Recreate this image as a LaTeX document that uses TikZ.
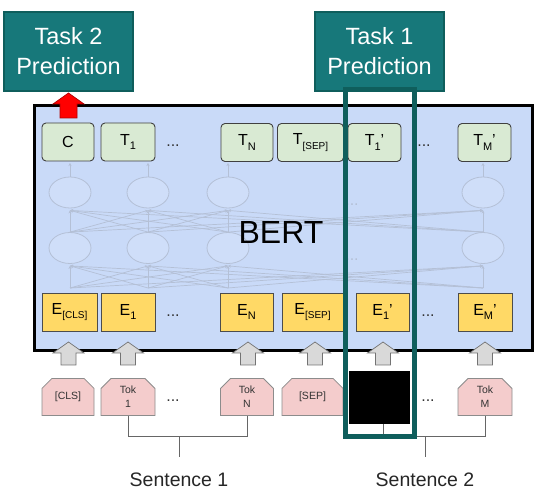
\documentclass[tikz,border=0pt]{standalone}
\usepackage{fontspec}
\setmainfont{Liberation Sans}
\usetikzlibrary{shapes.misc,shapes.geometric,arrows.meta}
\definecolor{bertbg}{HTML}{C9DAF8}
\definecolor{tfill}{HTML}{D9EAD3}
\definecolor{efill}{HTML}{FFD966}
\definecolor{tokfill}{HTML}{F4CCCC}
\definecolor{tealA}{HTML}{17787A}
\definecolor{tealB}{HTML}{0F5E5C}
\definecolor{netc}{HTML}{B4C0D6}
\definecolor{arrg}{HTML}{D9D9D9}
\definecolor{redA}{HTML}{FF0000}
\definecolor{redB}{HTML}{B00000}
\newcommand\sbx[1]{\raisebox{-4.5pt}{\fontsize{11}{11}\selectfont #1}}
\newcommand\sbs[1]{\raisebox{-4.5pt}{\fontsize{10}{10}\selectfont #1}}
\begin{document}
\begin{tikzpicture}[x=1pt,y=-1pt,
  bertbox/.style={draw=black, line width=3pt, fill=bertbg, inner sep=0pt},
  tbox/.style={draw=black!75, fill=tfill, rounded corners=4pt, line width=0.9pt,
    minimum height=38pt, inner sep=0pt, font=\fontsize{16}{16}\selectfont},
  ebox/.style={draw=black!70, fill=efill, line width=0.8pt, minimum height=38pt,
    inner sep=0pt, font=\fontsize{16}{16}\selectfont},
  tokbox/.style={chamfered rectangle, chamfered rectangle corners={north west,north east},
    chamfered rectangle xsep=5pt, chamfered rectangle ysep=5pt, draw=black!45,
    line width=0.8pt, fill=tokfill, minimum height=37pt, inner sep=0pt, align=center,
    font=\fontsize{10.5}{14}\selectfont, text=black!80},
  taskbox/.style={draw=tealB, line width=1.5pt, fill=tealA, minimum width=129pt,
    minimum height=79pt, inner sep=0pt, align=center, text=white,
    font=\fontsize{23.5}{30}\selectfont},
  dotsn/.style={inner sep=0pt, font=\fontsize{16}{16}\selectfont, text=black!80},
  netell/.style={ellipse, draw=netc, line width=0.8pt, fill=bertbg!88!white,
    minimum width=42pt, minimum height=31pt, inner sep=0pt},
  netline/.style={draw=netc, line width=0.7pt, -{Stealth[length=3pt,width=3pt]}},
  bracket/.style={draw=black!60, line width=1pt},
  sentlbl/.style={inner sep=0pt, font=\fontsize{19.5}{20}\selectfont, text=black!85},
  frame/.style={draw=tealB, line width=5pt},
  garrow/.style={draw=black!55, fill=arrg, line width=0.7pt},
  rarrow/.style={draw=redB, fill=redA, line width=0.7pt},
  uparr/.pic={\path[pic actions] (-7.5,0) -- (-7.5,-12) -- (-15.5,-12) -- (0,-23)
     -- (15.5,-12) -- (7.5,-12) -- (7.5,0) -- cycle;},
  redup/.pic={\path[pic actions] (-8.5,0) -- (-8.5,-14) -- (-15.5,-14) -- (0,-25)
     -- (15.5,-14) -- (8.5,-14) -- (8.5,0) -- cycle;}
]
\useasboundingbox (0,0) rectangle (539,494);

% BERT box
\node[bertbox, minimum width=498.5pt, minimum height=244.5pt] (bert) at (283.25,228.25) {};

% faint network
\foreach \i/\x in {1/70,2/148,3/228,4/483}{
  \node[netell] (u\i) at (\x,192.5) {};
  \node[netell] (l\i) at (\x,248) {};
  \coordinate (b\i) at (\x,288);
  \coordinate (tt\i) at (\x,163);
}
\foreach \i in {1,...,4}{
  \foreach \j in {1,...,4}{
    \draw[netline] (b\i) -- ([yshift=-2pt]l\j.south);
    \draw[netline] (l\i.north) -- ([yshift=-2pt]u\j.south);
  }
  \draw[netline] (u\i.north) -- (tt\i);
}
\node[inner sep=0pt, font=\fontsize{16}{16}\selectfont, text=netc] (nd1) at (352,205) {...};
\node[inner sep=0pt, font=\fontsize{16}{16}\selectfont, text=netc] (nd2) at (352,260) {...};

\node[inner sep=0pt, font=\fontsize{32}{32}\selectfont] (berttxt) at (281,232) {BERT};

% T row
\node[tbox, minimum width=52pt] (C) at (68,142) {C};
\node[tbox, minimum width=54pt] (T1) at (128,142) {T\sbx{1}};
\node[tbox, minimum width=52pt] (TN) at (247,142.5) {T\sbx{N}};
\node[tbox, minimum width=66pt] (TSEP) at (310.5,142.5) {T\sbs{[SEP]}};
\node[tbox, minimum width=53pt] (T1p) at (374.5,142.5) {T\sbx{1}'};
\node[tbox, minimum width=53pt] (TMp) at (484.5,142.5) {T\sbx{M}'};
\node[dotsn] (td1) at (173,146) {...};
\node[dotsn] (td2) at (424,146) {...};

% E row
\node[ebox, minimum width=55pt] (ECLS) at (69.5,312) {E\sbs{[CLS]}};
\node[ebox, minimum width=54pt] (E1) at (128,312) {E\sbx{1}};
\node[ebox, minimum width=53pt] (EN) at (246.5,312) {E\sbx{N}};
\node[ebox, minimum width=61pt] (ESEP) at (312.5,312) {E\sbs{[SEP]}};
\node[ebox, minimum width=53pt] (E1p) at (382.5,312) {E\sbx{1}'};
\node[ebox, minimum width=54pt] (EMp) at (485,312) {E\sbx{M}'};
\node[dotsn] (ed1) at (173,316) {...};
\node[dotsn] (ed2) at (428,316) {...};

% red arrow
\pic[rarrow] at (68.5,118) {redup};

% grey arrows
\foreach \x in {68.5,128,248,315,383,485}{
  \pic[garrow] at (\x,365) {uparr};
}

% tokens
\node[tokbox, minimum width=52pt] (tCLS) at (68,397) {[CLS]};
\node[tokbox, minimum width=54pt] (tok1) at (128,397) {Tok\\1};
\node[tokbox, minimum width=53pt] (tokN) at (247,397) {Tok\\N};
\node[tokbox, minimum width=61pt] (tSEP) at (312.5,397) {[SEP]};
\node[tokbox, minimum width=54pt] (tokM) at (485,397) {Tok\\M};
\node[dotsn] (kd1) at (173,401) {...};
\node[dotsn] (kd2) at (428,401) {...};
\coordinate (tok1p) at (383,416);

% brackets
\draw[bracket] (tok1.south) -- ++(0,21) -| (tokN.south);
\coordinate (s1a) at (179,437);
\coordinate (s1b) at (179,457);
\draw[bracket] (s1a) -- (s1b);
\draw[bracket] (tok1p) -- ++(0,21) -| (tokM.south);
\coordinate (s2a) at (425,437);
\coordinate (s2b) at (425,457);
\draw[bracket] (s2a) -- (s2b);
\node[sentlbl] (sent1) at (179,480) {Sentence 1};
\node[sentlbl] (sent2) at (425,480) {Sentence 2};

% black box
\node[fill=black, minimum width=61pt, minimum height=53pt, inner sep=0pt] (blk) at (379.5,397.5) {};

% task boxes
\node[taskbox] (task2) at (68.5,51.5) {Task 2\\Prediction};
\node[taskbox] (task1) at (379.5,51.5) {Task 1\\Prediction};

% frame
\draw[frame] (345.5,89.5) rectangle (414.5,437);
\end{tikzpicture}
\end{document}
